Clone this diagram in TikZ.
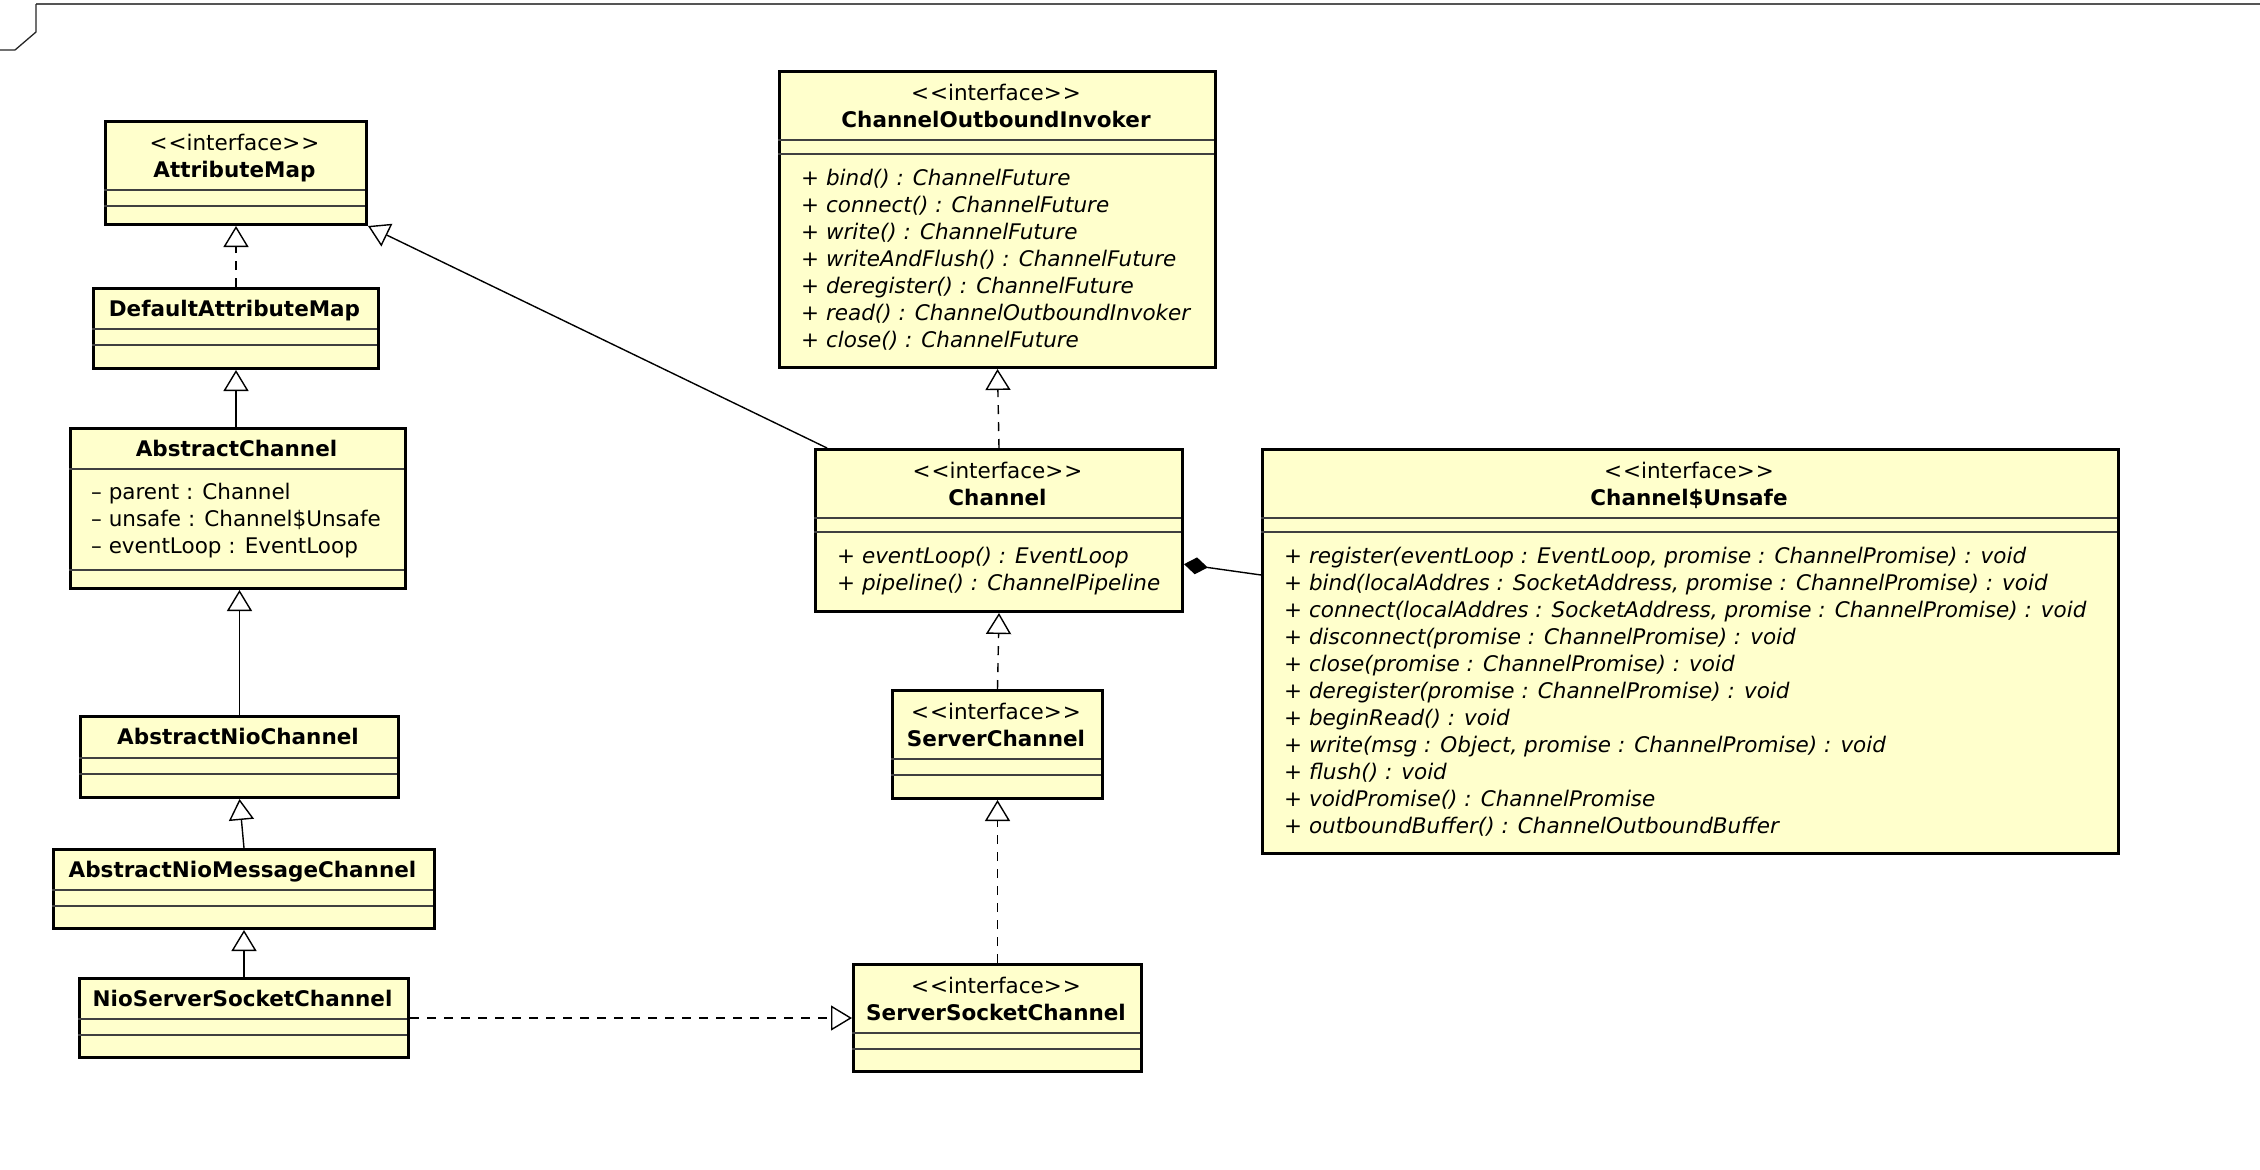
\documentclass[tikz,border=0pt]{standalone}
\usepackage{fontspec}
\setmainfont{DejaVu Sans}
\usetikzlibrary{arrows.meta,calc}
\definecolor{umlfill}{RGB}{255,255,204}
\definecolor{frameline}{RGB}{85,85,85}
\newcommand\stereo{<\kern0.8pt<interface>\kern0.8pt>}
\begin{document}
\begin{tikzpicture}[x=1pt,y=-1pt,
  box/.style={draw=black, line width=3pt, fill=umlfill, rectangle, inner sep=0pt, anchor=north west},
  div/.style={line width=1.2pt, draw=black!75},
  ster/.style={font=\fontsize{21.5}{27}\selectfont, anchor=base, inner sep=0pt},
  cname/.style={font=\fontsize{21.5}{27}\selectfont\bfseries, anchor=base, inner sep=0pt},
  memb/.style={font=\fontsize{21.5}{27}\selectfont, anchor=base west, inner sep=0pt},
  meth/.style={font=\fontsize{21.5}{27}\selectfont\itshape, anchor=base west, inner sep=0pt},
  gen/.style={line width=1.4pt, -{Triangle[open, length=21pt, width=25pt]}},
  realize/.style={gen, dash pattern=on 9pt off 8pt},
  comp/.style={line width=1.4pt, {Diamond[length=24pt, width=17pt]}-},
]
\fill[white] (0,0) rectangle (2260,1170);
\useasboundingbox (0,0) rectangle (2260,1170);

% frame
\draw[line width=2pt, frameline] (36,4) -- (2260,4);
\draw[line width=1.3pt, black!85] (36,4) -- (36,32) -- (15,50) -- (0,50);

% ---------- AttributeMap
\node[box, minimum width=261pt, minimum height=103pt] (attr) at (104,120) {};
\draw[div] (104,190) -- (365,190);
\draw[div] (104,206) -- (365,206);
\node[ster] (attr-s) at (234.5,150) {\stereo};
\node[cname] (attr-n) at (234.5,177) {AttributeMap};

% ---------- DefaultAttributeMap
\node[box, minimum width=285pt, minimum height=80pt] (def) at (92,287) {};
\draw[div] (92,329) -- (377,329);
\draw[div] (92,345) -- (377,345);
\node[cname] (def-n) at (234.5,316) {DefaultAttributeMap};

% ---------- AbstractChannel
\node[box, minimum width=335pt, minimum height=160pt] (absC) at (69,427) {};
\draw[div] (69,469) -- (404,469);
\draw[div] (69,570) -- (404,570);
\node[cname] (absC-n) at (236.5,456) {AbstractChannel};
\node[memb] (absC-a1) at (91,499) {– parent : Channel};
\node[memb] (absC-a2) at (91,526) {– unsafe : Channel\$Unsafe};
\node[memb] (absC-a3) at (91,553) {– eventLoop : EventLoop};

% ---------- AbstractNioChannel
\node[box, minimum width=318pt, minimum height=81pt] (absNio) at (79,715) {};
\draw[div] (79,758) -- (397,758);
\draw[div] (79,774) -- (397,774);
\node[cname] (absNio-n) at (238,744) {AbstractNioChannel};

% ---------- AbstractNioMessageChannel
\node[box, minimum width=381pt, minimum height=79pt] (msg) at (52,848) {};
\draw[div] (52,890) -- (433,890);
\draw[div] (52,906) -- (433,906);
\node[cname] (msg-n) at (242.5,877) {AbstractNioMessageChannel};

% ---------- NioServerSocketChannel
\node[box, minimum width=329pt, minimum height=79pt] (nio) at (78,977) {};
\draw[div] (78,1019) -- (407,1019);
\draw[div] (78,1035) -- (407,1035);
\node[cname] (nio-n) at (242.5,1006) {NioServerSocketChannel};

% ---------- ChannelOutboundInvoker
\node[box, minimum width=436pt, minimum height=296pt] (coi) at (778,70) {};
\draw[div] (778,140) -- (1214,140);
\draw[div] (778,154) -- (1214,154);
\node[ster] (coi-s) at (996,100) {\stereo};
\node[cname] (coi-n) at (996,127) {ChannelOutboundInvoker};
\foreach \t [count=\i from 0] in {%
  {+ bind() : ChannelFuture},
  {+ connect() : ChannelFuture},
  {+ write() : ChannelFuture},
  {+ writeAndFlush() : ChannelFuture},
  {+ deregister() : ChannelFuture},
  {+ read() : ChannelOutboundInvoker},
  {+ close() : ChannelFuture}}
  \node[meth] (coi-m\i) at (801,185+27*\i) {\t};

% ---------- Channel
\node[box, minimum width=367pt, minimum height=162pt] (chan) at (814,448) {};
\draw[div] (814,518) -- (1181,518);
\draw[div] (814,532) -- (1181,532);
\node[ster] (chan-s) at (997.5,478) {\stereo};
\node[cname] (chan-n) at (997.5,505) {Channel};
\node[meth] (chan-m0) at (837,563) {+ eventLoop() : EventLoop};
\node[meth] (chan-m1) at (837,590) {+ pipeline() : ChannelPipeline};

% ---------- Channel$Unsafe
\node[box, minimum width=856pt, minimum height=404pt] (uns) at (1261,448) {};
\draw[div] (1261,518) -- (2117,518);
\draw[div] (1261,532) -- (2117,532);
\node[ster] (uns-s) at (1689,478) {\stereo};
\node[cname] (uns-n) at (1689,505) {Channel\$Unsafe};
\foreach \t [count=\i from 0] in {%
  {+ register(eventLoop : EventLoop, promise : ChannelPromise) : void},
  {+ bind(localAddres : SocketAddress, promise : ChannelPromise) : void},
  {+ connect(localAddres : SocketAddress, promise : ChannelPromise) : void},
  {+ disconnect(promise : ChannelPromise) : void},
  {+ close(promise : ChannelPromise) : void},
  {+ deregister(promise : ChannelPromise) : void},
  {+ beginRead() : void},
  {+ write(msg : Object, promise : ChannelPromise) : void},
  {+ flush() : void},
  {+ voidPromise() : ChannelPromise},
  {+ outboundBuffer() : ChannelOutboundBuffer}}
  \node[meth] (uns-m\i) at (1284,563+27*\i) {\t};

% ---------- ServerChannel
\node[box, minimum width=210pt, minimum height=108pt] (sc) at (891,689) {};
\draw[div] (891,759) -- (1101,759);
\draw[div] (891,775) -- (1101,775);
\node[ster] (sc-s) at (996,719) {\stereo};
\node[cname] (sc-n) at (996,746) {ServerChannel};

% ---------- ServerSocketChannel
\node[box, minimum width=288pt, minimum height=107pt] (ssc) at (852,963) {};
\draw[div] (852,1033) -- (1140,1033);
\draw[div] (852,1049) -- (1140,1049);
\node[ster] (ssc-s) at (996,993) {\stereo};
\node[cname] (ssc-n) at (996,1020) {ServerSocketChannel};

% ---------- connectors
\draw[realize] (def.north) -- (attr.south);
\draw[gen] (def.south |- absC.north) -- (def.south);
\draw[gen] (absNio.north) -- (absNio.north |- absC.south);
\draw[gen] (msg.north) -- (absNio.south);
\draw[gen] (nio.north) -- (msg.south);
\draw[realize] (nio.east) -- (ssc.west);
\draw[realize] (ssc.north) -- (sc.south);
\draw[realize] (sc.north) -- (chan.south);
\draw[realize] (chan.north) -- (coi.south);
\draw[gen] ($(chan.north west)+(13,0)$) -- (attr.south east);
\draw[comp] ($(chan.south east)!0.296!(chan.north east)$) -- ($(uns.north west)!0.312!(uns.south west)$);
\end{tikzpicture}
\end{document}
